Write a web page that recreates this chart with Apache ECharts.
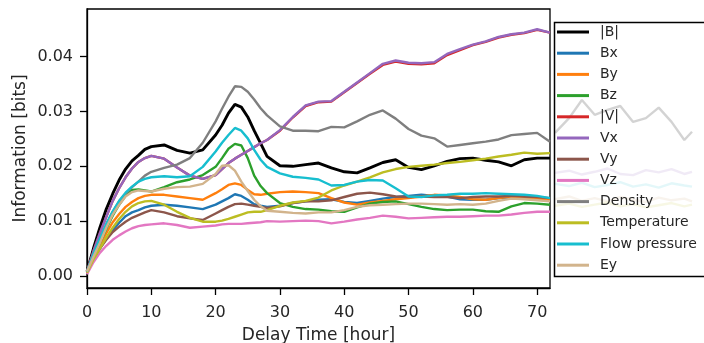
<!DOCTYPE html>
<html>
<head>
<meta charset="utf-8">
<script src="https://cdn.jsdelivr.net/npm/echarts@6/dist/echarts.min.js"></script>
<style>
html,body{margin:0;padding:0;background:#fff;}
#chart{width:704px;height:343px;}
</style>
</head>
<body>
<div id="chart"></div>
<script>
// ---- data ----
const hours = [0,1,2,3,4,5,6,7,8,9,10,12,14,16,18,20,21,22,23,24,25,26,27,28,30,32,34,36,38,40,42,44,46,48,50,52,54,56,58,60,62,64,66,68,70,72];

const magB = [0.0008,0.0050,0.0088,0.0122,0.0150,0.0175,0.0195,0.0210,0.0220,0.0231,0.0236,0.0239,0.0229,0.0224,0.0230,0.0257,0.0275,0.0297,0.0313,0.0308,0.0290,0.0265,0.0242,0.0218,0.0201,0.0200,0.0203,0.0206,0.0197,0.0190,0.0188,0.0197,0.0207,0.0212,0.0198,0.0194,0.0201,0.0209,0.0214,0.0215,0.0211,0.0208,0.0201,0.0212,0.0215,0.0215];
const bx   = [0.0006,0.0030,0.0050,0.0068,0.0083,0.0097,0.0109,0.0116,0.0120,0.0125,0.0128,0.0130,0.0128,0.0125,0.0122,0.0130,0.0136,0.0142,0.0149,0.0146,0.0139,0.0131,0.0128,0.0126,0.0128,0.0133,0.0136,0.0139,0.0140,0.0135,0.0133,0.0137,0.0141,0.0144,0.0146,0.0148,0.0146,0.0145,0.0140,0.0139,0.0139,0.0142,0.0143,0.0144,0.0143,0.0140];
const by   = [0.0006,0.0032,0.0056,0.0078,0.0098,0.0113,0.0126,0.0135,0.0142,0.0146,0.0148,0.0148,0.0145,0.0142,0.0139,0.0151,0.0158,0.0166,0.0169,0.0166,0.0157,0.0149,0.0148,0.0150,0.0153,0.0154,0.0153,0.0151,0.0142,0.0134,0.0130,0.0134,0.0137,0.0140,0.0142,0.0145,0.0148,0.0147,0.0144,0.0140,0.0139,0.0142,0.0145,0.0143,0.0141,0.0139];
const bz   = [0.0008,0.0035,0.0060,0.0086,0.0110,0.0130,0.0146,0.0157,0.0158,0.0156,0.0154,0.0162,0.0171,0.0176,0.0184,0.0199,0.0215,0.0232,0.0241,0.0238,0.0215,0.0183,0.0164,0.0151,0.0133,0.0126,0.0122,0.0121,0.0118,0.0117,0.0125,0.0132,0.0135,0.0136,0.0131,0.0126,0.0122,0.0120,0.0121,0.0121,0.0118,0.0117,0.0127,0.0133,0.0132,0.0130];
const magV = [0.0008,0.0045,0.0078,0.0108,0.0137,0.0160,0.0180,0.0196,0.0208,0.0215,0.0219,0.0214,0.0198,0.0183,0.0177,0.0184,0.0195,0.0206,0.0214,0.0221,0.0228,0.0235,0.0242,0.0248,0.0265,0.0289,0.0310,0.0317,0.0318,0.0335,0.0352,0.0369,0.0385,0.0391,0.0387,0.0386,0.0388,0.0403,0.0412,0.0421,0.0427,0.0435,0.0440,0.0443,0.0449,0.0444];
const vx   = [0.0008,0.0045,0.0078,0.0108,0.0137,0.0160,0.0180,0.0196,0.0208,0.0215,0.0219,0.0214,0.0198,0.0183,0.0177,0.0184,0.0195,0.0206,0.0214,0.0221,0.0228,0.0235,0.0242,0.0248,0.0266,0.0290,0.0311,0.0318,0.0319,0.0336,0.0353,0.0370,0.0387,0.0393,0.0389,0.0388,0.0390,0.0405,0.0414,0.0422,0.0428,0.0436,0.0441,0.0444,0.0450,0.0444];
const vy   = [0.0006,0.0030,0.0050,0.0066,0.0080,0.0090,0.0099,0.0106,0.0111,0.0116,0.0120,0.0116,0.0109,0.0105,0.0102,0.0114,0.0120,0.0126,0.0131,0.0132,0.0130,0.0128,0.0126,0.0124,0.0127,0.0133,0.0136,0.0136,0.0138,0.0144,0.0150,0.0152,0.0149,0.0145,0.0144,0.0145,0.0144,0.0144,0.0142,0.0144,0.0145,0.0145,0.0146,0.0145,0.0144,0.0142];
const vz   = [0.0003,0.0025,0.0042,0.0055,0.0066,0.0074,0.0081,0.0087,0.0091,0.0093,0.0094,0.0096,0.0093,0.0088,0.0090,0.0092,0.0094,0.0095,0.0095,0.0095,0.0096,0.0097,0.0098,0.0100,0.0099,0.0100,0.0101,0.0100,0.0096,0.0099,0.0103,0.0106,0.0110,0.0108,0.0105,0.0106,0.0107,0.0108,0.0108,0.0109,0.0110,0.0110,0.0112,0.0115,0.0117,0.0117];
const density = [0.0008,0.0040,0.0068,0.0094,0.0117,0.0136,0.0150,0.0162,0.0172,0.0183,0.0190,0.0197,0.0203,0.0215,0.0243,0.0282,0.0305,0.0327,0.0346,0.0345,0.0336,0.0322,0.0306,0.0293,0.0273,0.0265,0.0265,0.0264,0.0272,0.0271,0.0282,0.0294,0.0302,0.0287,0.0268,0.0256,0.0251,0.0236,0.0239,0.0242,0.0245,0.0249,0.0257,0.0259,0.0261,0.0245];
const temperature = [0.0006,0.0030,0.0050,0.0070,0.0088,0.0104,0.0117,0.0127,0.0133,0.0136,0.0137,0.0130,0.0117,0.0106,0.0099,0.0099,0.0101,0.0104,0.0108,0.0112,0.0116,0.0117,0.0117,0.0120,0.0128,0.0134,0.0137,0.0143,0.0156,0.0165,0.0172,0.0180,0.0189,0.0195,0.0199,0.0201,0.0203,0.0206,0.0208,0.0211,0.0214,0.0218,0.0221,0.0225,0.0223,0.0224];
const flowPressure = [0.0008,0.0040,0.0068,0.0095,0.0118,0.0137,0.0152,0.0163,0.0172,0.0177,0.0180,0.0182,0.0180,0.0182,0.0199,0.0227,0.0243,0.0257,0.0270,0.0265,0.0251,0.0230,0.0212,0.0199,0.0187,0.0181,0.0179,0.0176,0.0165,0.0166,0.0172,0.0175,0.0174,0.0160,0.0145,0.0144,0.0147,0.0148,0.0150,0.0150,0.0151,0.0150,0.0149,0.0148,0.0146,0.0142];
const ey   = [0.0008,0.0035,0.0060,0.0088,0.0112,0.0130,0.0145,0.0153,0.0156,0.0155,0.0154,0.0159,0.0162,0.0163,0.0168,0.0186,0.0201,0.0202,0.0192,0.0172,0.0155,0.0139,0.0127,0.0119,0.0117,0.0115,0.0114,0.0116,0.0116,0.0120,0.0126,0.0129,0.0130,0.0131,0.0132,0.0132,0.0131,0.0130,0.0131,0.0130,0.0132,0.0137,0.0141,0.0140,0.0138,0.0136];

// faint traces seen behind the legend box
const extHours = [72.8,75,77,79,81,83,85,87,89,91,93,94.2];
const extDensity = [0.0261,0.0288,0.0321,0.0294,0.0303,0.0310,0.0281,0.0288,0.0307,0.0281,0.0248,0.0263];
const extVx = [0.0188,0.0192,0.0185,0.0190,0.0196,0.0186,0.0184,0.0193,0.0189,0.0195,0.0186,0.0190];
const extFlow = [0.0168,0.0164,0.0170,0.0162,0.0166,0.0171,0.0163,0.0167,0.0161,0.0169,0.0165,0.0163];
const extEy = [0.0140,0.0145,0.0137,0.0142,0.0136,0.0144,0.0139,0.0135,0.0143,0.0138,0.0141,0.0136];
const extTemp = [0.0128,0.0132,0.0126,0.0130,0.0134,0.0127,0.0131,0.0125,0.0129,0.0133,0.0127,0.0130];

const names = ['|B|','Bx','By','Bz','|V|','Vx','Vy','Vz','Density','Temperature','Flow pressure','Ey'];
const values = [magB,bx,by,bz,magV,vx,vy,vz,density,temperature,flowPressure,ey];
const colors = ['#000000','#1f77b4','#ff7f0e','#2ca02c','#d62728','#9467bd','#8c564b','#e377c2','#7f7f7f','#bcbd22','#17becf','#d2b48c'];
const yTicks = [0,0.01,0.02,0.03,0.04];
const xTicks = [0,10,20,30,40,50,60,70];

const FONT = 'DejaVu Sans';
const TXT = '#262626';

const series = names.map((n,i)=>({
  name:n, type:'line', xAxisIndex:0, yAxisIndex:0,
  data: hours.map((h,k)=>[h, values[i][k]]),
  showSymbol:false, symbol:'none', clip:true,
  lineStyle:{color:colors[i], width: i===0?2.9:2.4},
  itemStyle:{color:colors[i]},
  z:2
}));

const ext = [[extDensity,'#7f7f7f',0.85],[extVx,'#9467bd',0.35],[extFlow,'#17becf',0.3],[extEy,'#d2b48c',0.4],[extTemp,'#bcbd22',0.3]];
ext.forEach(([arr,c,op])=>{
  series.push({
    type:'line', xAxisIndex:1, yAxisIndex:1,
    data: extHours.map((h,k)=>[h, arr[k]]),
    showSymbol:false, symbol:'none', silent:true,
    lineStyle:{color:c, width:2.4, opacity:op}, z:1
  });
});

const chart = echarts.init(document.getElementById('chart'), null, {renderer:'canvas'});
chart.setOption({
  animation:false,
  backgroundColor:'#ffffff',
  grid:[
    {left:87, top:9, width:463, height:279, show:true, borderColor:'#000', borderWidth:1.3, backgroundColor:'transparent', containLabel:false, outerBoundsMode:'none'},
    {left:555, top:9, width:137, height:279, show:false, containLabel:false, outerBoundsMode:'none'}
  ],
  graphic:[
    {type:'rect', z:3, silent:true,
     shape:{x:554.5, y:22.5, width:200, height:254},
     style:{fill:'rgba(255,255,255,0.6)', stroke:'#000', lineWidth:1.5}}
  ],
  xAxis:[
    {type:'value', gridIndex:0, min:0, max:72,
     name:'Delay Time [hour]', nameLocation:'middle', nameGap:39, nameMoveOverlap:false,
     nameTextStyle:{fontFamily:FONT, fontSize:17, color:TXT},
     axisLine:{show:true, onZero:false, lineStyle:{color:'#000', width:1.3}},
     axisTick:{show:true, length:7, customValues:xTicks, lineStyle:{color:'#000', width:1.3}},
     axisLabel:{show:true, customValues:xTicks, margin:17, fontFamily:FONT, fontSize:16, color:TXT},
     splitLine:{show:false}},
    {type:'value', gridIndex:1, min:72.8, max:94.2, show:false}
  ],
  yAxis:[
    {type:'value', gridIndex:0, min:-0.0022, max:0.0487,
     name:'Information [bits]', nameLocation:'middle', nameGap:58, nameRotate:90, nameMoveOverlap:false,
     nameTextStyle:{fontFamily:FONT, fontSize:17, color:TXT},
     axisLine:{show:true, onZero:false, lineStyle:{color:'#000', width:1.3}},
     axisTick:{show:true, length:7, customValues:yTicks, lineStyle:{color:'#000', width:1.3}},
     axisLabel:{show:true, customValues:yTicks, margin:14, fontFamily:FONT, fontSize:16, color:TXT,
       padding:[0,0,8,0],
       formatter:(v)=>Number(v).toFixed(2)},
     splitLine:{show:false}},
    {type:'value', gridIndex:1, min:-0.0022, max:0.0487, show:false}
  ],
  legend:{
    show:true, orient:'vertical', left:554, top:22,
    data:names.map((n,i)=>({name:n, icon:'path://M0,0 L32,0 L32,3 L0,3 Z', itemStyle:{color:colors[i]}})),
    itemWidth:32, itemHeight:14, itemGap:7.2,
    padding:[3,3,3,3],
    backgroundColor:'transparent', borderWidth:0,
    textStyle:{fontFamily:FONT, fontSize:14, color:TXT, padding:[0,0,0,6]},
    selectedMode:false, z:4
  },
  series:series
});
</script>
</body>
</html>
